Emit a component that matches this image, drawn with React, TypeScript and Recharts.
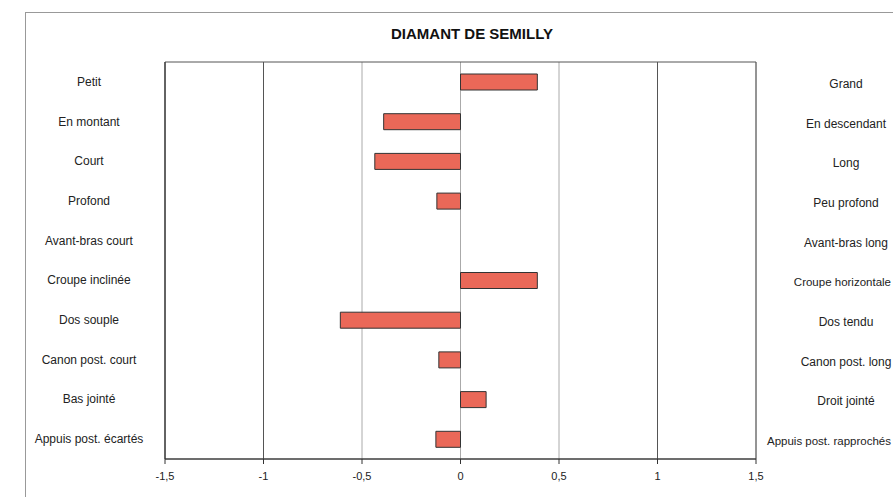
import React from 'react';
import { BarChart, Bar, XAxis, YAxis, CartesianGrid, ReferenceArea, ReferenceLine } from 'recharts';

const leftLabels = [
  'Petit', 'En montant', 'Court', 'Profond', 'Avant-bras court',
  'Croupe inclinée', 'Dos souple', 'Canon post. court', 'Bas jointé', 'Appuis post. écartés',
];
const rightLabels = [
  'Grand', 'En descendant', 'Long', 'Peu profond', 'Avant-bras long',
  'Croupe horizontale', 'Dos tendu', 'Canon post. long', 'Droit jointé', 'Appuis post. rapprochés',
];
const values = [0.39, -0.39, -0.435, -0.12, 0, 0.39, -0.61, -0.11, 0.13, -0.125];
const xTicks = [-1.5, -1, -0.5, 0, 0.5, 1, 1.5];

const data = leftLabels.map((l, i) => ({ left: l, right: rightLabels[i], value: values[i] }));

const FONT = 'Arial, "Liberation Sans", Helvetica, sans-serif';

const CatTick = (props: any) => {
  const { y, payload } = props;
  const i = payload.index;
  const label = rightLabels[i];
  const estW = label.length * 5.6;
  const overflow = 846 + estW / 2 > 892;
  return (
    <g>
      <text x={89} y={y} dy={0} textAnchor="middle" dominantBaseline="central" fontSize={12} fill="#222" fontFamily={FONT}>
        {leftLabels[i]}
      </text>
      <text x={overflow ? 891 : 846} y={y} dy={2} textAnchor={overflow ? 'end' : 'middle'} dominantBaseline="central" fontSize={overflow ? 11.5 : 12} fill="#222" fontFamily={FONT}>
        {label}
      </text>
    </g>
  );
};

export default function App() {
  return (
    <div style={{ position: 'absolute', left: 0, top: 0, width: 893, height: 497, background: '#fff', overflow: 'hidden' }}>
      <div style={{ position: 'absolute', left: 25, top: 12, width: 900, height: 520, borderLeft: '1px solid #999', borderTop: '1px solid #999' }} />
      <div style={{ position: 'absolute', left: 0, width: 944, top: 25, textAlign: 'center', fontFamily: FONT, fontWeight: 'bold', fontSize: 15, color: '#111' }}>
        DIAMANT DE SEMILLY
      </div>
      <BarChart
        width={893}
        height={497}
        data={data}
        layout="vertical"
        margin={{ top: 62, right: 137, bottom: 8, left: 0 }}
        style={{ position: 'absolute', left: 0, top: 0 }}
      >
        <CartesianGrid horizontal={false} vertical stroke="#aaa" />
        <XAxis
          type="number"
          domain={[-1.5, 1.5]}
          ticks={xTicks}
          allowDataOverflow
          tickFormatter={(v: number) => String(v).replace('.', ',')}
          tick={{ fontSize: 11, fill: '#222', fontFamily: FONT }}
          tickSize={5}
          tickMargin={8}
          height={30}
          stroke="#333"
          axisLine={{ stroke: '#333' }}
          tickLine={{ stroke: '#333' }}
        />
        <YAxis
          type="category"
          dataKey="left"
          width={165}
          tick={<CatTick />}
          tickLine={false}
          axisLine={{ stroke: '#333' }}
          interval={0}
        />
        <ReferenceArea x1={-1.5} x2={1.5} stroke="#555" strokeWidth={1} fill="none" fillOpacity={0} ifOverflow="visible" />
        <ReferenceLine x={-1} stroke="#555" />
        <ReferenceLine x={1} stroke="#555" />
        <Bar dataKey="value" fill="#EA6858" stroke="#333" strokeWidth={1} barSize={16} isAnimationActive={false} />
      </BarChart>
    </div>
  );
}
